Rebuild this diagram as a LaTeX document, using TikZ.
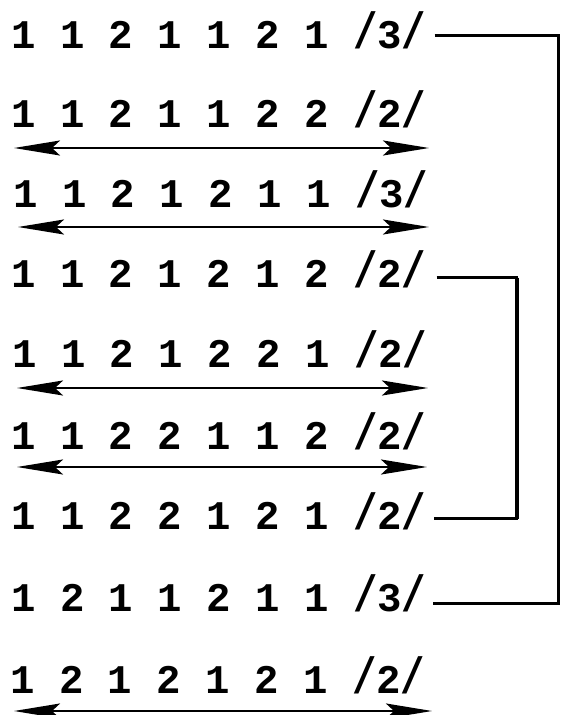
\documentclass[tikz,border=0pt]{standalone}
\usepackage{graphicx}
\usepackage{fontspec}
\newfontfamily\tw{Liberation Mono}
\newcommand\tslash{\scalebox{1}[1.25]{/}}
\usetikzlibrary{arrows.meta}
\begin{document}
\begin{tikzpicture}[x=1pt,y=-1pt,
  seq/.style={anchor=base west, inner sep=0pt, text height=25pt, text depth=0pt,
    font=\tw\bfseries\fontsize{40.7}{44}\selectfont},
  dbl/.style={line width=2.2pt,
    {Stealth[length=46pt,width=15pt,inset=8pt]}-{Stealth[length=46pt,width=15pt,inset=8pt]}},
  link/.style={line width=2.6pt},
  outer/.style={line width=2.2pt},
  heavy/.style={line width=4pt}]
\useasboundingbox[fill=white] (0,0) rectangle (560,715);
\node[seq] (r1) at (11,48)  {1 1 2 1 1 2 1 \tslash3\tslash};
\node[seq] (r2) at (11,127) {1 1 2 1 1 2 2 \tslash2\tslash};
\node[seq] (r3) at (13,207) {1 1 2 1 2 1 1 \tslash3\tslash};
\node[seq] (r4) at (11,287) {1 1 2 1 2 1 2 \tslash2\tslash};
\node[seq] (r5) at (12,367) {1 1 2 1 2 2 1 \tslash2\tslash};
\node[seq] (r6) at (11,449) {1 1 2 2 1 1 2 \tslash2\tslash};
\node[seq] (r7) at (11,529) {1 1 2 2 1 2 1 \tslash2\tslash};
\node[seq] (r8) at (11,611) {1 2 1 1 2 1 1 \tslash3\tslash};
\node[seq] (r9) at (10,693) {1 2 1 2 1 2 1 \tslash2\tslash};
% double arrows
\coordinate (a2l) at (14,148); \coordinate (a2r) at (429,148);
\coordinate (a3l) at (18,227); \coordinate (a3r) at (429,227);
\coordinate (a5l) at (17,388); \coordinate (a5r) at (428,388);
\coordinate (a6l) at (17,467); \coordinate (a6r) at (427,467);
\coordinate (a9l) at (14,711); \coordinate (a9r) at (432,711);
\draw[dbl] (a2l) -- (a2r);
\draw[dbl] (a3l) -- (a3r);
\draw[dbl] (a5l) -- (a5r);
\draw[dbl] (a6l) -- (a6r);
\draw[dbl] (a9l) -- (a9r);
% outer bracket
\coordinate (s1) at ([xshift=8pt]r1.east);
\coordinate (s8) at ([xshift=6pt,yshift=-5pt]r8.east);
\coordinate (rb) at (558.5,300);
\draw[outer] (s1) -| (rb) |- (s8);
% middle bracket
\coordinate (s4) at ([xshift=10pt,yshift=-3pt]r4.east);
\coordinate (s7) at ([xshift=7pt,yshift=-2pt]r7.east);
\coordinate (mb) at (517,400);
\draw[link] (s4) -| (mb) |- (s7);
\draw[heavy] (mb |- s4) -- (mb |- s7);
\end{tikzpicture}
\end{document}
